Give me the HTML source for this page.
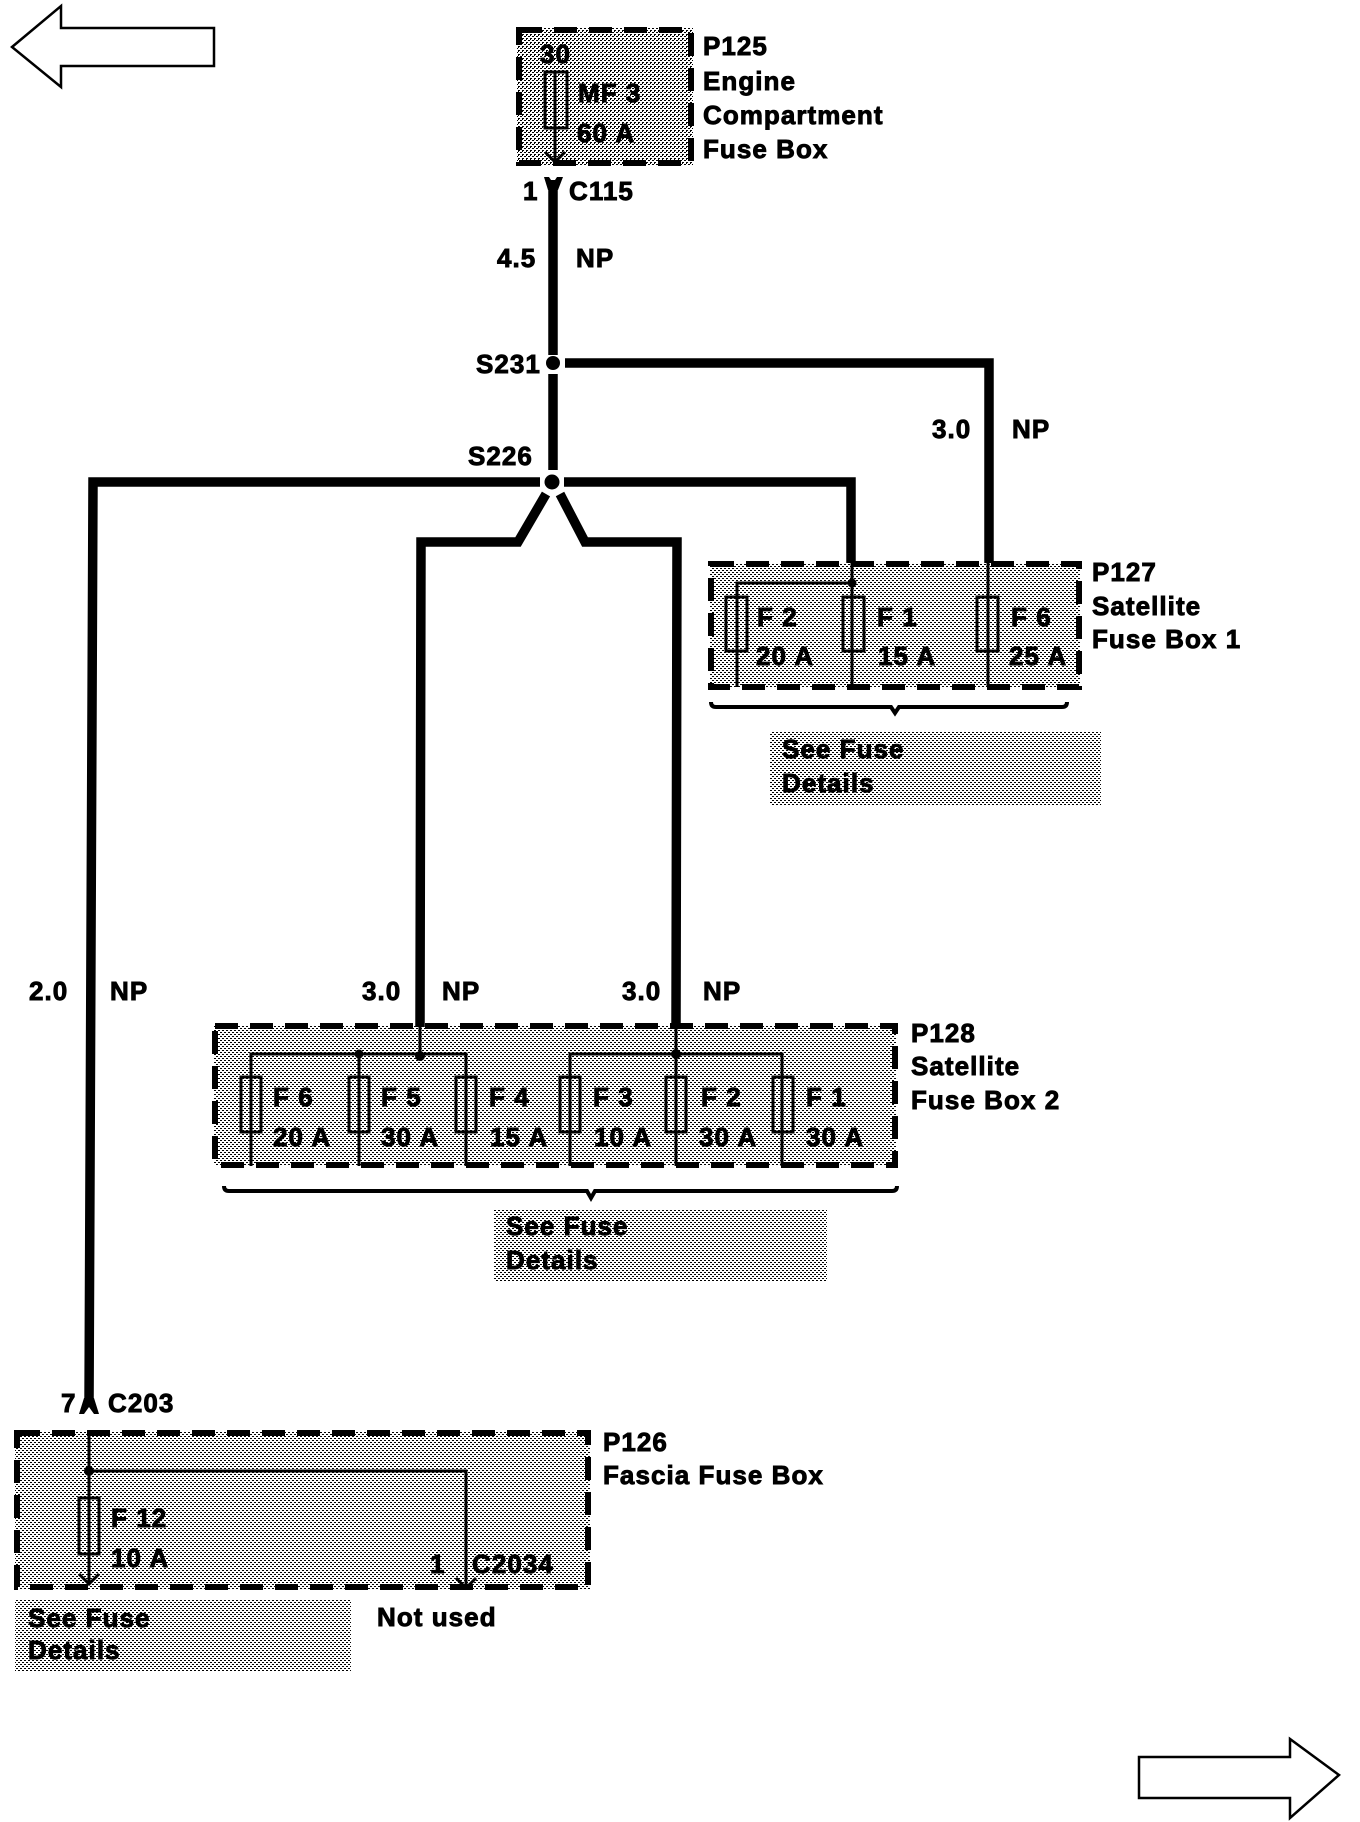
<!DOCTYPE html>
<html><head><meta charset="utf-8"><style>
html,body{margin:0;padding:0;background:#fff}
svg{display:block}
text{font-family:"Liberation Sans",sans-serif;font-weight:bold;font-size:26px;letter-spacing:1.05px;fill:#000;stroke:#000;stroke-width:.9px}
.w{fill:none;stroke:#000;stroke-width:9.5}
.t{fill:none;stroke:#000;stroke-width:3}
.d{fill:none;stroke:#000;stroke-width:6;stroke-dasharray:23 12}
.f{fill:none;stroke:#000;stroke-width:3}
.a{fill:#fff;stroke:#000;stroke-width:2.5}
</style></head><body>
<svg width="1360" height="1822" viewBox="0 0 1360 1822" xmlns="http://www.w3.org/2000/svg">
<defs><pattern id="s" width="4" height="4" patternUnits="userSpaceOnUse" shape-rendering="crispEdges">
<rect x="0" y="0" width="2" height="1"/><rect x="2" y="2" width="2" height="1"/><rect x="2" y="3" width="1" height="1"/>
</pattern>
<pattern id="s2" width="4" height="4" patternUnits="userSpaceOnUse" shape-rendering="crispEdges">
<rect x="0" y="0" width="2" height="1"/><rect x="2" y="2" width="2" height="1"/>
</pattern></defs>

<polygon class="a" points="12,47 61,6 61,28 214,28 214,66 61,66 61,87"/>
<polygon class="a" points="1339,1775 1290,1739 1290,1757 1139,1757 1139,1798 1290,1798 1290,1818"/>

<!-- stipple -->
<rect x="517" y="28" width="176" height="137" fill="url(#s)"/>
<rect x="710" y="563" width="370" height="125" fill="url(#s2)"/>
<rect x="770" y="731" width="331" height="74" fill="url(#s2)"/>
<rect x="214" y="1025" width="682" height="141" fill="url(#s2)"/>
<rect x="494" y="1210" width="333" height="71" fill="url(#s2)"/>
<rect x="15" y="1431" width="575" height="158" fill="url(#s2)"/>
<rect x="15" y="1600" width="336" height="72" fill="url(#s2)"/>

<!-- thick wires -->
<path class="w" d="M553 180V355M553 374V470M565 363H989V563"/>
<path class="w" d="M89 1405L93 482H540M564 482H851V563"/>
<path class="w" d="M420 1027L421 542H518L546 494M560 494L585 542H677L676 1027"/>
<circle cx="553" cy="363" r="7"/><circle cx="552" cy="482" r="7.5"/>
<path d="M544 177 L549 177 L553 183 L557 177 L563 177 L558 190 L548 190Z"/>
<path d="M79 1414 L84 1414 L89 1407 L94 1414 L99 1414 L94 1398 L84 1398Z"/>

<!-- P125 -->
<rect class="d" x="519" y="30" width="172" height="133"/>
<rect class="f" x="545" y="72" width="22" height="56"/>
<path class="t" d="M555 72V162M545 152L555 162L565 152"/>

<!-- P127 -->
<rect class="d" x="711" y="564" width="368" height="123"/>
<path class="t" d="M737 687V583H852M852 563V687M988 563V687"/>
<circle cx="852" cy="583" r="4.5"/>
<rect class="f" x="726" y="597" width="21" height="54"/>
<rect class="f" x="843" y="597" width="21" height="54"/>
<rect class="f" x="977" y="597" width="21" height="54"/>
<path d="M711 702Q711 707 716 707H891L895 713L899 707H1062Q1067 707 1067 702" fill="none" stroke="#000" stroke-width="4"/>

<!-- P128 -->
<rect class="d" x="215" y="1026" width="680" height="139"/>
<path class="t" d="M251 1166V1054H466V1166M359 1054V1166M420 1025V1056M570 1166V1054H782V1166M676 1025V1166"/>
<circle cx="359" cy="1054" r="4.5"/><circle cx="420" cy="1056" r="5"/><circle cx="676" cy="1054" r="5"/>
<rect class="f" x="241" y="1077" width="20" height="55"/>
<rect class="f" x="349" y="1077" width="20" height="55"/>
<rect class="f" x="456" y="1077" width="20" height="55"/>
<rect class="f" x="560" y="1077" width="20" height="55"/>
<rect class="f" x="666" y="1077" width="20" height="55"/>
<rect class="f" x="773" y="1077" width="20" height="55"/>
<path d="M224 1186Q224 1191 229 1191H587L591 1198L595 1191H892Q897 1191 897 1186" fill="none" stroke="#000" stroke-width="4"/>

<!-- P126 -->
<rect class="d" x="17" y="1433" width="571" height="154"/>
<path class="t" d="M89 1433V1584M79 1574L89 1584L99 1574M89 1471H466V1588M456 1578L466 1588L476 1578"/>
<circle cx="89" cy="1471" r="5"/>
<rect class="f" x="79" y="1498" width="20" height="56"/>

<!-- labels -->
<text x="703" y="55">P125</text><text x="703" y="90">Engine</text><text x="703" y="124">Compartment</text><text x="703" y="158">Fuse Box</text>
<text x="540" y="63">30</text><text x="578" y="102">MF 3</text><text x="577" y="142">60 A</text>
<text x="523" y="200">1</text><text x="569" y="200">C115</text>
<text x="497" y="267">4.5</text><text x="576" y="267">NP</text>
<text x="476" y="373">S231</text><text x="468" y="465">S226</text>
<text x="932" y="438">3.0</text><text x="1012" y="438">NP</text>
<text x="1092" y="581">P127</text><text x="1092" y="615">Satellite</text><text x="1092" y="648">Fuse Box 1</text>
<text x="757" y="626">F 2</text><text x="756" y="665">20 A</text>
<text x="877" y="626">F 1</text><text x="878" y="665">15 A</text>
<text x="1011" y="626">F 6</text><text x="1009" y="665">25 A</text>
<text x="782" y="758">See Fuse</text><text x="782" y="792">Details</text>
<text x="29" y="1000">2.0</text><text x="110" y="1000">NP</text>
<text x="362" y="1000">3.0</text><text x="442" y="1000">NP</text>
<text x="622" y="1000">3.0</text><text x="703" y="1000">NP</text>
<text x="911" y="1042">P128</text><text x="911" y="1075">Satellite</text><text x="911" y="1109">Fuse Box 2</text>
<text x="273" y="1106">F 6</text><text x="273" y="1146">20 A</text>
<text x="381" y="1106">F 5</text><text x="381" y="1146">30 A</text>
<text x="489" y="1106">F 4</text><text x="490" y="1146">15 A</text>
<text x="593" y="1106">F 3</text><text x="594" y="1146">10 A</text>
<text x="701" y="1106">F 2</text><text x="699" y="1146">30 A</text>
<text x="806" y="1106">F 1</text><text x="806" y="1146">30 A</text>
<text x="506" y="1235">See Fuse</text><text x="506" y="1269">Details</text>
<text x="61" y="1412">7</text><text x="108" y="1412">C203</text>
<text x="603" y="1451">P126</text><text x="603" y="1484">Fascia Fuse Box</text>
<text x="111" y="1527">F 12</text><text x="111" y="1567">10 A</text>
<text x="430" y="1573">1</text><text x="472" y="1573">C2034</text>
<text x="28" y="1627">See Fuse</text><text x="28" y="1659">Details</text>
<text x="377" y="1626">Not used</text>
</svg>
</body></html>
